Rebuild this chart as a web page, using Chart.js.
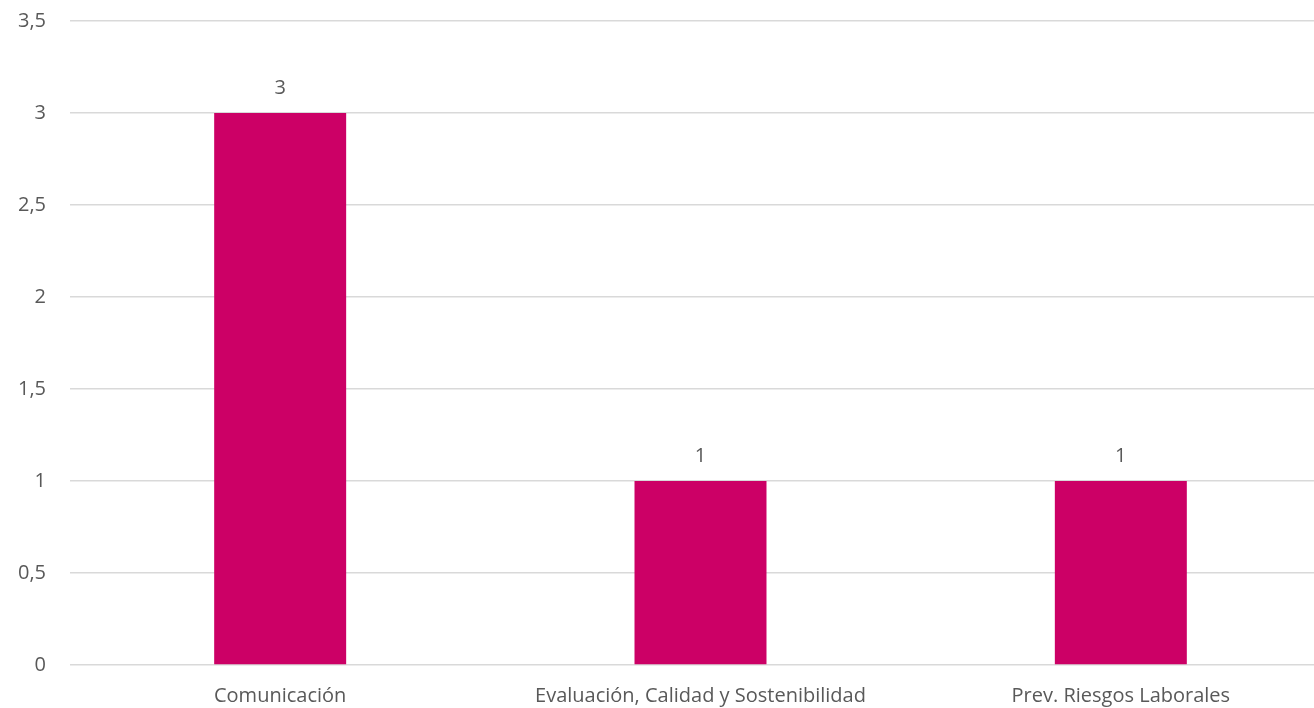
<!DOCTYPE html>
<html>
<head>
<meta charset="utf-8">
<script src="https://cdn.jsdelivr.net/npm/chart.js@4/dist/chart.umd.min.js"></script>
<style>
  html, body { margin: 0; padding: 0; overflow: hidden; background: #ffffff; }
  #wrap { width: 1332px; height: 708px; position: relative; }
</style>
</head>
<body>
<div id="wrap"><canvas id="chart"></canvas></div>
<script>
// Categories and counts per area
const categories = ["Comunicación", "Evaluación, Calidad y Sostenibilidad", "Prev. Riesgos Laborales"];
const counts = [3, 1, 1];
const yTicks = [0, 0.5, 1, 1.5, 2, 2.5, 3, 3.5];

const FONT = "'Open Sans', sans-serif";
const TEXT = "#595959";

// Writes each bar's value just above it
const valueLabels = {
  id: "valueLabels",
  afterDatasetsDraw(chart) {
    const ctx = chart.ctx;
    const meta = chart.getDatasetMeta(0);
    ctx.save();
    ctx.font = "20px " + FONT;
    ctx.fillStyle = TEXT;
    ctx.textAlign = "center";
    ctx.textBaseline = "middle";
    meta.data.forEach((bar, i) => {
      ctx.fillText(String(counts[i]).replace(".", ","), bar.x, bar.y - 25);
    });
    ctx.restore();
  }
};

new Chart(document.getElementById("chart"), {
  type: "bar",
  data: {
    labels: categories,
    datasets: [{
      data: counts,
      backgroundColor: "#CC0066",
      borderWidth: 0,
      barPercentage: 1,
      categoryPercentage: 0.314
    }]
  },
  options: {
    responsive: true,
    maintainAspectRatio: false,
    animation: false,
    layout: { padding: { top: 21, right: 1, left: 0, bottom: 0 } },
    plugins: { legend: { display: false }, tooltip: { enabled: false } },
    scales: {
      x: {
        grid: { display: false, drawTicks: false },
        border: { display: false },
        ticks: { color: TEXT, font: { family: FONT, size: 20 }, padding: 19, maxRotation: 0, autoSkip: false },
        afterFit(scale) { scale.height = 43; }
      },
      y: {
        min: 0,
        max: 3.5,
        afterBuildTicks(scale) { scale.ticks = yTicks.map(v => ({ value: v })); },
        grid: { color: "#d9d9d9", lineWidth: 1.5, drawTicks: false },
        border: { display: false },
        ticks: {
          color: TEXT,
          font: { family: FONT, size: 20 },
          padding: 24,
          callback: v => String(v).replace(".", ",")
        },
        afterFit(scale) {
          scale.width = 70;
          scale.paddingTop = 0;
          scale.paddingBottom = 0;
        }
      }
    }
  },
  plugins: [valueLabels]
});
</script>
</body>
</html>
